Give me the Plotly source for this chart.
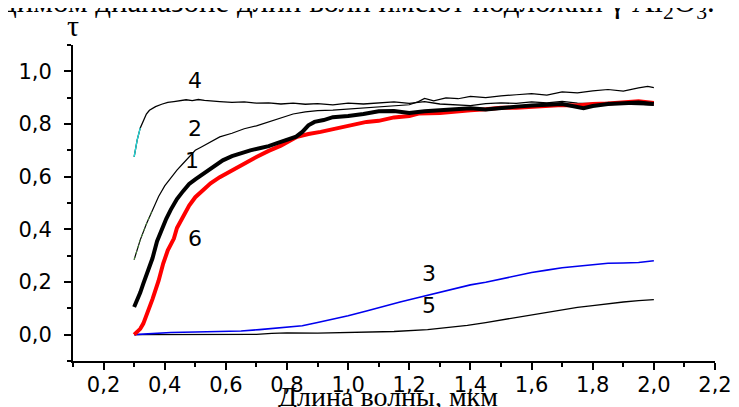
import plotly.graph_objects as go

# ---- data ----
x1 = [0.30, 0.31, 0.32, 0.33, 0.345, 0.36, 0.375, 0.39, 0.405, 0.42, 0.44, 0.46, 0.48, 0.50, 0.53, 0.56, 0.59,
      0.62, 0.65, 0.68, 0.71, 0.74, 0.77, 0.80, 0.83, 0.85, 0.87, 0.89, 0.92, 0.95, 1.00, 1.05, 1.10, 1.15,
      1.20, 1.25, 1.30, 1.35, 1.40, 1.45, 1.50, 1.55, 1.60, 1.65, 1.70, 1.77, 1.80, 1.85, 1.90, 1.95, 2.00]
y1 = [0.105, 0.13, 0.16, 0.194, 0.245, 0.29, 0.355, 0.40, 0.44, 0.475, 0.515, 0.545, 0.572, 0.590, 0.615, 0.640, 0.662,
      0.678, 0.690, 0.700, 0.708, 0.716, 0.728, 0.740, 0.752, 0.770, 0.795, 0.808, 0.815, 0.826, 0.830, 0.838, 0.848, 0.849,
      0.842, 0.848, 0.852, 0.856, 0.860, 0.855, 0.862, 0.866, 0.870, 0.872, 0.876, 0.860, 0.868, 0.876, 0.879, 0.882, 0.876]

x2 = [0.30, 0.32, 0.34, 0.36, 0.38, 0.40, 0.42, 0.44, 0.46, 0.48, 0.50, 0.52, 0.55, 0.58, 0.62, 0.66, 0.70, 0.74,
      0.78, 0.82, 0.86, 0.90, 0.95, 1.00, 1.05, 1.10, 1.15, 1.20, 1.23, 1.25, 1.28, 1.32, 1.36, 1.40, 1.45, 1.50,
      1.55, 1.60, 1.65, 1.70, 1.75, 1.80, 1.85, 1.90, 1.95, 1.98, 2.00]
y2 = [0.285, 0.36, 0.42, 0.475, 0.525, 0.565, 0.595, 0.625, 0.65, 0.675, 0.70, 0.713, 0.732, 0.751, 0.765, 0.782, 0.793, 0.808,
      0.823, 0.838, 0.846, 0.851, 0.853, 0.857, 0.860, 0.864, 0.870, 0.873, 0.885, 0.897, 0.888, 0.899, 0.896, 0.905, 0.900, 0.907,
      0.911, 0.915, 0.910, 0.922, 0.918, 0.926, 0.931, 0.925, 0.937, 0.943, 0.938]

x3 = [0.30, 0.35, 0.42, 0.50, 0.58, 0.65, 0.71, 0.76, 0.80, 0.85, 0.90, 0.96, 1.00, 1.06, 1.10, 1.17, 1.22, 1.26,
      1.30, 1.35, 1.40, 1.45, 1.50, 1.55, 1.60, 1.65, 1.70, 1.75, 1.80, 1.85, 1.90, 1.95, 2.00]
y3 = [0.0, 0.004, 0.008, 0.010, 0.011, 0.014, 0.019, 0.024, 0.028, 0.034, 0.046, 0.060, 0.072, 0.090, 0.103, 0.124, 0.138, 0.149,
      0.160, 0.176, 0.189, 0.199, 0.212, 0.225, 0.236, 0.245, 0.254, 0.260, 0.266, 0.271, 0.272, 0.274, 0.281]

x4 = [0.30, 0.31, 0.32, 0.33, 0.34, 0.35, 0.37, 0.39, 0.41, 0.43, 0.45, 0.47, 0.49, 0.51, 0.53, 0.55, 0.58, 0.62,
      0.66, 0.70, 0.74, 0.78, 0.82, 0.86, 0.90, 0.95, 1.00, 1.05, 1.10, 1.15, 1.20, 1.25, 1.30, 1.35, 1.40, 1.45,
      1.50, 1.55, 1.60, 1.65, 1.70, 1.75, 1.80, 1.85, 1.90, 1.95, 2.00]
y4 = [0.675, 0.74, 0.785, 0.815, 0.838, 0.852, 0.866, 0.875, 0.882, 0.885, 0.889, 0.892, 0.889, 0.893, 0.890, 0.887, 0.885, 0.882,
      0.884, 0.879, 0.880, 0.876, 0.879, 0.875, 0.877, 0.873, 0.879, 0.876, 0.881, 0.884, 0.878, 0.885, 0.876, 0.874, 0.870, 0.877,
      0.880, 0.878, 0.884, 0.880, 0.886, 0.879, 0.878, 0.882, 0.876, 0.874, 0.872]

x5 = [0.30, 0.40, 0.50, 0.60, 0.70, 0.75, 0.80, 0.90, 1.00, 1.06, 1.15, 1.26, 1.32, 1.39, 1.45, 1.50, 1.55, 1.60,
      1.65, 1.71, 1.75, 1.80, 1.86, 1.90, 1.95, 2.00]
y5 = [0.0, 0.0, 0.0, 0.0, 0.001, 0.005, 0.007, 0.006, 0.008, 0.010, 0.012, 0.019, 0.026, 0.035, 0.046, 0.056, 0.066, 0.076,
      0.086, 0.098, 0.104, 0.110, 0.120, 0.124, 0.129, 0.133]

x6 = [0.30, 0.31, 0.32, 0.33, 0.345, 0.36, 0.38, 0.395, 0.41, 0.43, 0.44, 0.46, 0.48, 0.50, 0.52, 0.55, 0.58, 0.61,
      0.64, 0.67, 0.70, 0.74, 0.78, 0.83, 0.87, 0.91, 0.95, 1.00, 1.06, 1.10, 1.15, 1.20, 1.23, 1.30, 1.35, 1.40,
      1.45, 1.50, 1.55, 1.60, 1.65, 1.70, 1.75, 1.80, 1.85, 1.90, 1.95, 2.00]
y6 = [0.0, 0.01, 0.022, 0.042, 0.085, 0.135, 0.205, 0.27, 0.32, 0.365, 0.405, 0.445, 0.49, 0.522, 0.545, 0.575, 0.598, 0.618,
      0.638, 0.655, 0.675, 0.698, 0.718, 0.750, 0.762, 0.770, 0.780, 0.792, 0.808, 0.812, 0.825, 0.830, 0.840, 0.842, 0.848, 0.852,
      0.856, 0.862, 0.862, 0.866, 0.868, 0.872, 0.870, 0.876, 0.878, 0.882, 0.886, 0.880]

curve_labels = ["4", "2", "1", "6", "3", "5"]
label_x = [0.50, 0.50, 0.49, 0.50, 1.265, 1.265]
label_y = [0.965, 0.782, 0.66, 0.365, 0.233, 0.112]

x_ticks = [0.2, 0.4, 0.6, 0.8, 1.0, 1.2, 1.4, 1.6, 1.8, 2.0, 2.2]
y_ticks = [0.0, 0.2, 0.4, 0.6, 0.8, 1.0]

x_title = "Длина волны, мкм"
y_title = "τ"
top_text = "димом диапазоне длин волн имеют подложки γ Al<sub>2</sub>O<sub>3</sub>."

# ---- figure ----
fig = go.Figure()
line_mode = "lines"
fig.add_trace(go.Scatter(x=x5, y=y5, mode=line_mode, line=dict(color="black", width=1.3), hoverinfo="skip"))
fig.add_trace(go.Scatter(x=x3, y=y3, mode=line_mode, line=dict(color="#0000ee", width=1.6), hoverinfo="skip"))
fig.add_trace(go.Scatter(x=x4, y=y4, mode=line_mode, line=dict(color="black", width=1.3), hoverinfo="skip"))
fig.add_trace(go.Scatter(x=x4[:3], y=y4[:3], mode=line_mode, line=dict(color="#22dddd", width=1.3), hoverinfo="skip"))
fig.add_trace(go.Scatter(x=x2, y=y2, mode=line_mode, line=dict(color="black", width=1.2), hoverinfo="skip"))
fig.add_trace(go.Scatter(x=x2[:4], y=y2[:4], mode=line_mode, line=dict(color="#4a8a3a", width=1.0, dash="dot"), hoverinfo="skip"))
fig.add_trace(go.Scatter(x=x6, y=y6, mode=line_mode, line=dict(color="#ff0000", width=4), hoverinfo="skip"))
fig.add_trace(go.Scatter(x=x1, y=y1, mode=line_mode, line=dict(color="black", width=4), hoverinfo="skip"))

tick_font = dict(family="DejaVu Sans, Arial, sans-serif", size=21, color="black")

for t, lx, ly in zip(curve_labels, label_x, label_y):
    fig.add_annotation(x=lx, y=ly, text=t, showarrow=False, xref="x", yref="y",
                       font=dict(family="DejaVu Sans, Arial, sans-serif", size=22, color="black"))

# page body has an 8px margin; plot area in window: x 73..715, y 45..361 px
fig.add_annotation(x=0.49, y=-0.057, xref="paper", yref="paper", text=x_title, showarrow=False,
                   yanchor="top", xanchor="center",
                   font=dict(family="Liberation Serif, Times New Roman, serif", size=28, color="black"))
fig.add_annotation(x=0.0, y=1.062, xref="paper", yref="paper", text=y_title, showarrow=False,
                   xanchor="center", yanchor="middle",
                   font=dict(family="Liberation Serif, Times New Roman, serif", size=30, color="black"))
fig.add_annotation(x=-0.115, y=1.06, xref="paper", yref="paper", text=top_text, showarrow=False,
                   xanchor="left", yanchor="bottom",
                   font=dict(family="Liberation Serif, Times New Roman, serif", size=31, color="black"))

fig.update_layout(
    width=739, height=407,
    margin=dict(l=65, r=32, t=37, b=54, autoexpand=False),
    paper_bgcolor="white", plot_bgcolor="white",
    showlegend=False,
    separators=", ",
)
fig.update_xaxes(
    range=[0.1, 2.2], showgrid=False, zeroline=False, automargin=False,
    showline=True, linecolor="black", linewidth=2,
    tickmode="array", tickvals=x_ticks, tickformat=".1f",
    ticks="outside", ticklen=7, tickwidth=1.5, tickcolor="black",
    minor=dict(dtick=0.1, tick0=0.1, ticks="outside", ticklen=4, tickwidth=1.5, tickcolor="black"),
    tickfont=tick_font, ticklabelstandoff=-3,
)
fig.update_yaxes(
    range=[-0.1, 1.1], showgrid=False, zeroline=False, automargin=False,
    showline=True, linecolor="black", linewidth=2,
    tickmode="array", tickvals=y_ticks, tickformat=".1f",
    ticks="outside", ticklen=7, tickwidth=1.5, tickcolor="black",
    minor=dict(dtick=0.1, tick0=0.1, ticks="outside", ticklen=4, tickwidth=1.5, tickcolor="black"),
    tickfont=tick_font, ticklabelstandoff=8,
)

fig.write_html("out.html")
